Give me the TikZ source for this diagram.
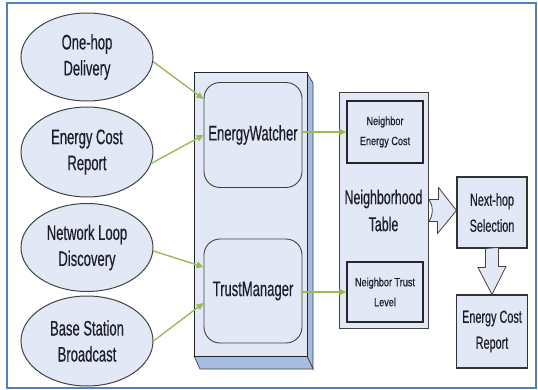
\documentclass[tikz,border=0pt]{standalone}
\usepackage{fontspec}
\setmainfont{Liberation Sans}
\newfontfamily\condf[FakeStretch=0.62,FakeBold=0.4]{Liberation Sans}
\newfontfamily\smallcondf[FakeStretch=0.76,FakeBold=0.3]{Liberation Sans}
\usetikzlibrary{shapes.geometric,arrows.meta,calc}

\definecolor{paleblue}{RGB}{226,232,246}
\definecolor{sideblue}{RGB}{166,189,226}
\definecolor{frameblue}{RGB}{79,129,189}
\definecolor{leafgreen}{RGB}{155,187,89}
\definecolor{edgegray}{RGB}{66,66,66}
\definecolor{inkdark}{RGB}{30,30,40}

\begin{document}
\begin{tikzpicture}[x=1pt,y=-1pt,
  every node/.style={text=inkdark},
  oval/.style={ellipse, draw=edgegray, line width=1pt, fill=paleblue,
    minimum width=132pt, minimum height=88pt, inner sep=0pt, align=center,
    font=\condf\fontsize{21}{26}\selectfont},
  module/.style={rectangle, rounded corners=16pt, draw=edgegray, line width=0.9pt,
    fill=paleblue, minimum width=98pt, minimum height=105pt, inner sep=0pt,
    font=\condf\fontsize{21}{25}\selectfont},
  entry/.style={rectangle, draw=black!85, line width=1.4pt, fill=paleblue,
    minimum width=76pt, minimum height=61pt, inner sep=0pt, align=center,
    font=\smallcondf\fontsize{12}{20}\selectfont},
  stage/.style={rectangle, draw=black!80, line width=1.1pt, fill=paleblue,
    minimum width=70pt, inner sep=0pt, align=center,
    font=\condf\fontsize{17.5}{26}\selectfont},
  flow/.style={draw=leafgreen, line width=1.4pt, -{Triangle[length=7pt,width=6.5pt]}},
  blockarrow/.style={draw=edgegray, line width=0.8pt, fill=paleblue, line join=miter}
]
\useasboundingbox (0,0) rectangle (538,390);

% outer frame
\draw[frameblue, line width=1.5pt] (7,3) rectangle (536,388);

% 3D container: side faces, then front face
\filldraw[fill=sideblue, draw=edgegray, line width=0.7pt]
  (307,73) -- (313,83) -- (313,369) -- (307,356) -- cycle;
\filldraw[fill=sideblue, draw=edgegray, line width=0.7pt]
  (194,356) -- (307,356) -- (313,369) -- (200,369) -- cycle;
\node[rectangle, draw=black!85, line width=1pt, fill=paleblue,
  minimum width=113pt, minimum height=283pt, inner sep=0pt] (mainbox) at (250.5,214.5) {};

% modules inside the container
\node[module] (ew) at (253,135) {EnergyWatcher};
\node[module, minimum height=104pt] (tm) at (253,291) {TrustManager};

% input events
\node[oval] (e1) at (87,57) {One-hop\\Delivery};
\node[oval, minimum height=90pt] (e2) at (87,152) {Energy Cost\\Report};
\node[oval] (e3) at (87,247.5) {Network Loop\\Discovery};
\node[oval, minimum height=90pt] (e4) at (87,341) {Base Station\\Broadcast};

% neighborhood table with its two entries
\node[rectangle, draw=edgegray, line width=1pt, fill=paleblue, minimum width=89pt,
  minimum height=235pt, inner sep=0pt, align=center,
  font=\condf\fontsize{20}{27}\selectfont] (tbl) at (383.5,210.5) {Neighborhood\\Table};
\node[entry, minimum height=62pt] (nec) at (385,132) {Neighbor\\Energy Cost};
\node[entry, minimum height=60pt] (ntl) at (385,292) {Neighbor Trust\\Level};

% selection stage and output
\node[stage, minimum height=71pt] (nh) at (492,212.5) {Next-hop\\Selection};
\node[stage, minimum height=73pt, minimum width=71pt] (rep) at (492,331.5) {Energy Cost\\Report};

% event arrows
\draw[flow] (e1.-4) -- ([yshift=36pt]ew.west);
\draw[flow] (e2.-10) -- (ew.west);
\draw[flow] (e3.-3) -- ([yshift=24pt]tm.west);
\draw[flow] (e4.east) -- ([yshift=-12pt]tm.west);

% module to table arrows
\draw[flow] (ew.east |- nec.west) -- (nec.west);
\draw[flow] (tm.east |- ntl.west) -- (ntl.west);

% hollow arrow: table to next-hop selection
\coordinate (ra1) at ($(tbl.east)+(0,-11)$);
\coordinate (ra2) at ($(tbl.east)+(0,11)$);
\draw[blockarrow] (ra1) -- ++(10,0) -- ++(0,-12) -- (nh.west |- tbl.east)
  -- ++(-19,23) -- ++(0,-12) -- (ra2)
  .. controls ($(ra2)+(5,-5)$) and ($(ra1)+(5,5)$) .. (ra1) -- cycle;

% hollow arrow: next-hop selection to report
\draw[blockarrow] ($(nh.south)+(-6.5,0)$) -- ++(0,19) -- ++(-7.5,0) -- (rep.north)
  -- ++(14,-28) -- ++(-7.5,0) -- ++(0,-19) -- cycle;
\end{tikzpicture}
\end{document}
